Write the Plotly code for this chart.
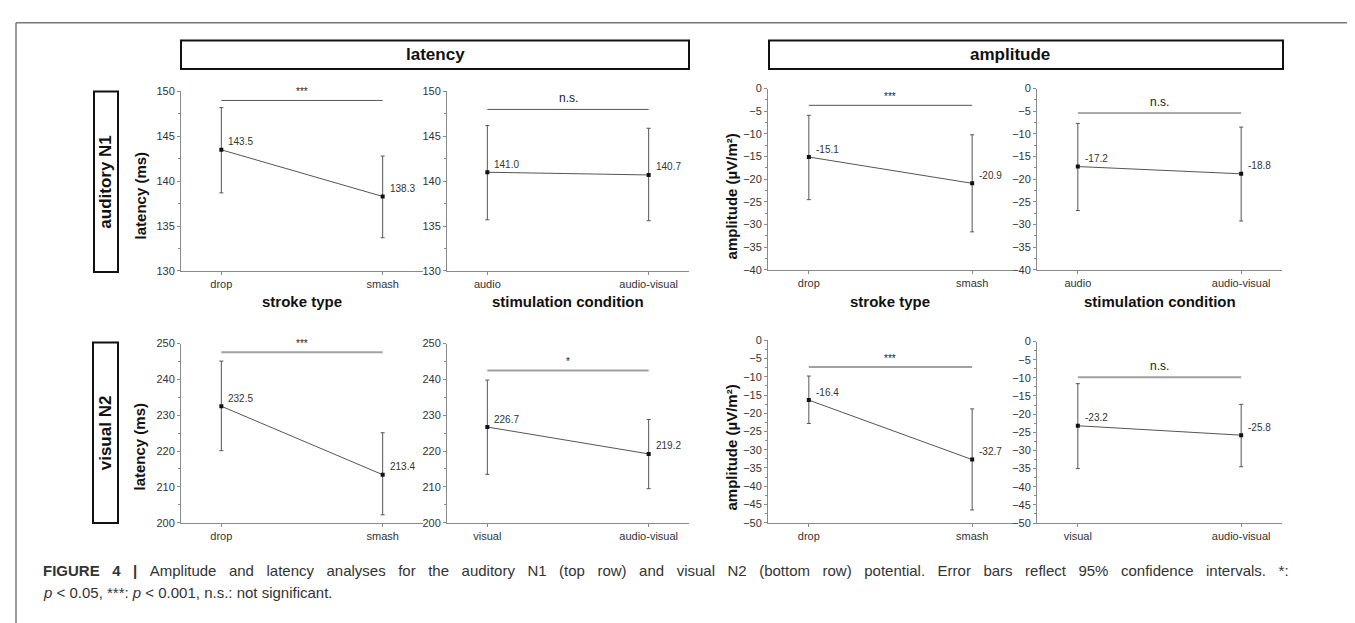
import plotly.graph_objects as go

W, H = 1355, 623

# ---------------- data ----------------
stroke_cats = ["drop", "smash"]
stim_cats_n1 = ["audio", "audio-visual"]
stim_cats_n2 = ["visual", "audio-visual"]

# auditory N1 - latency
n1_lat_stroke_mean = [143.5, 138.3]
n1_lat_stroke_lo = [138.7, 133.7]
n1_lat_stroke_hi = [148.2, 142.8]
n1_lat_stim_mean = [141.0, 140.7]
n1_lat_stim_lo = [135.7, 135.6]
n1_lat_stim_hi = [146.2, 145.9]
# auditory N1 - amplitude
n1_amp_stroke_mean = [-15.1, -20.9]
n1_amp_stroke_lo = [-24.5, -31.6]
n1_amp_stroke_hi = [-5.9, -10.2]
n1_amp_stim_mean = [-17.2, -18.8]
n1_amp_stim_lo = [-26.9, -29.2]
n1_amp_stim_hi = [-7.7, -8.5]
# visual N2 - latency
n2_lat_stroke_mean = [232.5, 213.4]
n2_lat_stroke_lo = [220.1, 202.2]
n2_lat_stroke_hi = [245.1, 225.1]
n2_lat_stim_mean = [226.7, 219.2]
n2_lat_stim_lo = [213.5, 209.5]
n2_lat_stim_hi = [239.8, 228.8]
# visual N2 - amplitude
n2_amp_stroke_mean = [-16.4, -32.7]
n2_amp_stroke_lo = [-22.8, -46.5]
n2_amp_stroke_hi = [-9.8, -18.8]
n2_amp_stim_mean = [-23.2, -25.8]
n2_amp_stim_lo = [-35.0, -34.5]
n2_amp_stim_hi = [-11.6, -17.3]

# significance brackets: level and label
sig_levels = [149.0, 148.0, -3.7, -5.4, 247.6, 242.5, -7.3, -9.8]
sig_labels = ["***", "n.s.", "***", "n.s.", "***", "*", "***", "n.s."]

y_ranges = [[130, 150], [130, 150], [-40, 0], [-40, 0],
            [200, 250], [200, 250], [-50, 0], [-50, 0]]
y_dticks = [5, 5, 5, 5, 10, 10, 5, 5]

panels_data = [
    (stroke_cats, n1_lat_stroke_mean, n1_lat_stroke_lo, n1_lat_stroke_hi),
    (stim_cats_n1, n1_lat_stim_mean, n1_lat_stim_lo, n1_lat_stim_hi),
    (stroke_cats, n1_amp_stroke_mean, n1_amp_stroke_lo, n1_amp_stroke_hi),
    (stim_cats_n1, n1_amp_stim_mean, n1_amp_stim_lo, n1_amp_stim_hi),
    (stroke_cats, n2_lat_stroke_mean, n2_lat_stroke_lo, n2_lat_stroke_hi),
    (stim_cats_n2, n2_lat_stim_mean, n2_lat_stim_lo, n2_lat_stim_hi),
    (stroke_cats, n2_amp_stroke_mean, n2_amp_stroke_lo, n2_amp_stroke_hi),
    (stim_cats_n2, n2_amp_stim_mean, n2_amp_stim_lo, n2_amp_stim_hi),
]

# ---------------- layout geometry (pixels) ----------------
x_doms_px = [(173, 415), (439, 681), (760, 1005), (1029, 1274)]
y_doms_px_top = [(79, 262), (79, 262), (76, 261), (76, 261)]
y_doms_px_bot = [(336, 518.7), (336, 518.7), (332.7, 518.7), (334, 519)]

FONT = "Arial, 'Liberation Sans', sans-serif"
AXC = "#8a8a8a"
TXT = "#333333"


def fx(px):
    return px / W


def fy(py):
    return 1 - py / H


fig = go.Figure()
shapes = []
annotations = []
layout_axes = {}

for i in range(8):
    n = i + 1
    col = i % 4
    row = i // 4
    cats, mean, lo, hi = panels_data[i]
    xs = list(range(len(cats)))
    xd = x_doms_px[col]
    yd = (y_doms_px_top if row == 0 else y_doms_px_bot)[col]
    xa = "x" if n == 1 else f"x{n}"
    ya = "y" if n == 1 else f"y{n}"

    fig.add_trace(go.Scatter(
        x=xs, y=mean, mode="lines+markers", xaxis=xa, yaxis=ya,
        line=dict(color="#555555", width=1),
        marker=dict(symbol="square", size=4, color="#111111"),
        error_y=dict(type="data", symmetric=False,
                     array=[h - m for h, m in zip(hi, mean)],
                     arrayminus=[m - l for m, l in zip(mean, lo)],
                     color="#555555", thickness=1, width=2),
        showlegend=False, hoverinfo="skip",
    ))

    xkey = "xaxis" if n == 1 else f"xaxis{n}"
    ykey = "yaxis" if n == 1 else f"yaxis{n}"
    layout_axes[xkey] = dict(
        domain=[fx(xd[0]), fx(xd[1])], anchor=ya,
        range=[-0.25, 1.25], tickmode="array", tickvals=xs, ticktext=cats,
        showline=True, linecolor=AXC, linewidth=1, mirror=False,
        ticks="outside", ticklen=3, tickcolor=AXC, tickwidth=1,
        showgrid=False, zeroline=False,
        tickfont=dict(family=FONT, size=11, color=TXT), fixedrange=True,
    )
    dt = y_dticks[i]
    layout_axes[ykey] = dict(
        domain=[fy(yd[1]), fy(yd[0])], anchor=xa,
        range=y_ranges[i], tickmode="linear", tick0=y_ranges[i][0], dtick=dt,
        showline=True, linecolor=AXC, linewidth=1,
        ticks="outside", ticklen=3, tickcolor=AXC, tickwidth=1,
        minor=dict(ticks="outside", ticklen=2, dtick=dt / 2, tickcolor=AXC,
                   showgrid=False),
        showgrid=False, zeroline=False,
        tickfont=dict(family=FONT, size=11, color=TXT), fixedrange=True,
    )

    # value labels
    for xv, m in zip(xs, mean):
        annotations.append(dict(
            x=xv, y=m, xref=xa, yref=ya, text=f"{m:.1f}", showarrow=False,
            xanchor="left", yanchor="middle", xshift=5, yshift=8,
            font=dict(family=FONT, size=10, color=TXT)))

    # significance bracket
    sig_col = "#555555" if row == 0 else "#a0a0a0"
    sig_w = 1 if row == 0 else 2
    shapes.append(dict(type="line", xref=xa, yref=ya, x0=xs[0], x1=xs[-1],
                       y0=sig_levels[i], y1=sig_levels[i],
                       line=dict(color=sig_col, width=sig_w)))
    lab = sig_labels[i]
    annotations.append(dict(
        x=(xs[0] + xs[-1]) / 2, y=sig_levels[i], xref=xa, yref=ya, text=lab,
        showarrow=False, xanchor="center", yanchor="bottom",
        yshift=1 if lab != "n.s." else 2,
        font=dict(family=FONT, size=10 if "*" in lab else 12, color="#222222")))

# ---------------- header boxes ----------------
for (x0, x1, label, tx) in [(173, 681, "latency", 427), (761, 1275, "amplitude", 1002)]:
    shapes.append(dict(type="rect", xref="paper", yref="paper",
                       x0=fx(x0), x1=fx(x1), y0=fy(56), y1=fy(27),
                       line=dict(color="#111111", width=2), fillcolor="white"))
    annotations.append(dict(x=fx(tx), y=fy(41.5), xref="paper", yref="paper",
                            text=f"<b>{label}</b>", showarrow=False,
                            xanchor="center", yanchor="middle",
                            font=dict(family=FONT, size=17, color="#111111")))

# ---------------- row label boxes ----------------
for (x0, x1, y0, y1, label) in [(86, 110, 79, 263, "auditory N1"),
                                 (85, 110, 335, 519, "visual N2")]:
    shapes.append(dict(type="rect", xref="paper", yref="paper",
                       x0=fx(x0), x1=fx(x1), y0=fy(y1), y1=fy(y0),
                       line=dict(color="#111111", width=2), fillcolor="white"))
    annotations.append(dict(x=fx((x0 + x1) / 2), y=fy((y0 + y1) / 2),
                            xref="paper", yref="paper", text=f"<b>{label}</b>",
                            showarrow=False, textangle=-90,
                            xanchor="center", yanchor="middle",
                            font=dict(family=FONT, size=17, color="#111111")))

# ---------------- axis titles ----------------
for (cx, cy, label) in [(132, 185, "latency (ms)"), (132, 441, "latency (ms)"),
                        (723, 186, "amplitude (µV/m²)"), (723, 442, "amplitude (µV/m²)")]:
    annotations.append(dict(x=fx(cx), y=fy(cy), xref="paper", yref="paper",
                            text=f"<b>{label}</b>", showarrow=False, textangle=-90,
                            xanchor="center", yanchor="middle",
                            font=dict(family=FONT, size=15, color="#111111")))

for (cx, label) in [(294, "stroke type"), (560, "stimulation condition"),
                    (882, "stroke type"), (1152, "stimulation condition")]:
    annotations.append(dict(x=fx(cx), y=fy(293), xref="paper", yref="paper",
                            text=f"<b>{label}</b>", showarrow=False,
                            xanchor="center", yanchor="middle",
                            font=dict(family=FONT, size=15, color="#111111")))

# ---------------- outer frame ----------------
shapes.append(dict(type="line", xref="paper", yref="paper",
                   x0=fx(8), x1=fx(1360), y0=fy(9), y1=fy(9),
                   line=dict(color="#777777", width=1.5)))
shapes.append(dict(type="line", xref="paper", yref="paper",
                   x0=fx(8), x1=fx(8), y0=fy(9), y1=fy(640),
                   line=dict(color="#777777", width=1.5)))

# ---------------- caption (first line justified) ----------------
GAP = "\u2002\u2004"
cap1 = ("<b>FIGURE" + GAP + "4" + GAP + "|</b>" + GAP +
        GAP.join("Amplitude and latency analyses for the auditory N1 (top row) "
                 "and visual N2 (bottom row) potential. Error bars reflect 95% "
                 "confidence intervals. *:".split(" ")))
cap2 = "<i>p</i> &lt; 0.05, ***: <i>p</i> &lt; 0.001, n.s.: not significant."
for (cy, txt) in [(567, cap1), (590, cap2)]:
    annotations.append(dict(x=fx(33), y=fy(cy), xref="paper", yref="paper",
                            text=txt, showarrow=False, xanchor="left",
                            yanchor="middle",
                            font=dict(family=FONT, size=15, color="#333333")))

fig.update_layout(
    width=W, height=H, margin=dict(l=0, r=0, t=0, b=0),
    paper_bgcolor="white", plot_bgcolor="white",
    shapes=shapes, annotations=annotations, showlegend=False,
    **layout_axes,
)

fig.write_html("out.html")
